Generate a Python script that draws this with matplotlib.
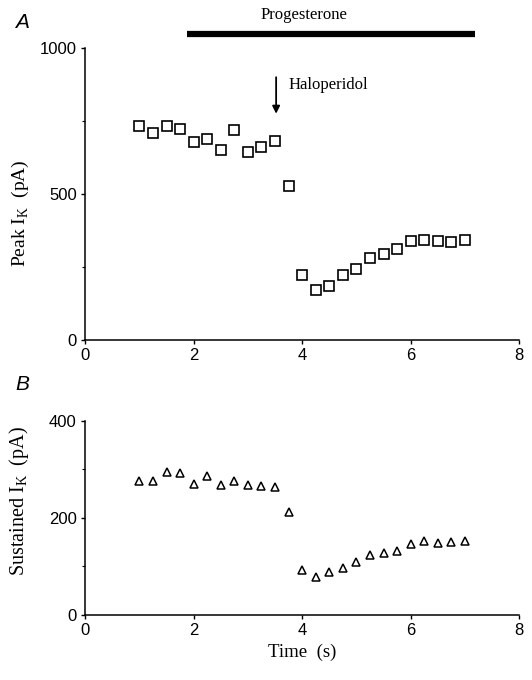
import matplotlib
matplotlib.use("Agg")
import matplotlib.pyplot as plt
from matplotlib.ticker import MultipleLocator

plt.rcParams['font.family'] = ['Liberation Sans', 'DejaVu Sans']
plt.rcParams['mathtext.fontset'] = 'custom'
plt.rcParams['mathtext.rm'] = 'Liberation Serif'

time = [1.0, 1.25, 1.5, 1.75, 2.0, 2.25, 2.5, 2.75, 3.0, 3.25, 3.5, 3.75,
        4.0, 4.25, 4.5, 4.75, 5.0, 5.25, 5.5, 5.75, 6.0, 6.25, 6.5, 6.75, 7.0]
peak_ik = [733, 708, 733, 723, 677, 690, 652, 718, 645, 660, 680, 528,
           221, 172, 186, 223, 242, 281, 293, 312, 339, 341, 339, 336, 344]
sustained_ik = [277, 276, 294, 292, 269, 287, 268, 276, 268, 266, 264, 212,
                92, 79, 88, 97, 109, 123, 128, 131, 146, 152, 148, 150, 153]
x_ticks = [0, 2, 4, 6, 8]
peak_ticks = [0, 500, 1000]
sust_ticks = [0, 200, 400]
progesterone_span = [1.88, 7.19]
haloperidol_time = 3.52

fig = plt.figure(figsize=(5.32, 6.8), dpi=100)
axA = fig.add_axes([0.160, 0.500, 0.816, 0.4294])
axB = fig.add_axes([0.160, 0.0956, 0.816, 0.2854])

serif = 'Liberation Serif'

for ax in (axA, axB):
    for s in ('top', 'right'):
        ax.spines[s].set_visible(False)
    for s in ('left', 'bottom'):
        ax.spines[s].set_linewidth(1.1)
    ax.set_xlim(0, 8)
    ax.set_xticks(x_ticks)
    ax.tick_params(axis='both', labelsize=12, direction='out', length=3, width=1, pad=3)
    ax.tick_params(axis='y', which='minor', length=2, width=0.8)

axA.plot(time, peak_ik, linestyle='none', marker='s', markersize=6.8,
         markerfacecolor='white', markeredgecolor='black', markeredgewidth=1.2, clip_on=False)
axA.set_ylim(0, 1000)
axA.set_yticks(peak_ticks)
axA.yaxis.set_minor_locator(MultipleLocator(250))
axA.set_ylabel(r'Peak I$_{\rm K}$  (pA)', fontfamily=serif, fontsize=14)
axA.yaxis.set_label_coords(-0.125, 0.435)

axB.plot(time, sustained_ik, linestyle='none', marker='^', markersize=6,
         markerfacecolor='white', markeredgecolor='black', markeredgewidth=1.1, clip_on=False)
axB.set_ylim(0, 400)
axB.set_yticks(sust_ticks)
axB.yaxis.set_minor_locator(MultipleLocator(100))
axB.set_ylabel(r'Sustained I$_{\rm K}$  (pA)', fontfamily=serif, fontsize=14.5)
axB.yaxis.set_label_coords(-0.125, 0.588)
axB.set_xlabel('Time  (s)', fontfamily=serif, fontsize=13.5, labelpad=4)

# Progesterone bar
axA.plot(progesterone_span, [1048, 1048], color='black', linewidth=4.5,
         solid_capstyle='butt', clip_on=False)
axA.text(sum(progesterone_span) / 2 - 0.5, 1112, 'Progesterone', fontfamily=serif,
         fontsize=12, ha='center', va='center', clip_on=False)

# Haloperidol arrow
axA.annotate('', xy=(haloperidol_time, 775), xytext=(haloperidol_time, 900),
             arrowprops=dict(arrowstyle='-|>', color='black', lw=1.3,
                             mutation_scale=11, shrinkA=0, shrinkB=0))
axA.text(haloperidol_time + 0.23, 875, 'Haloperidol', fontfamily=serif,
         fontsize=12, ha='left', va='center')

fig.text(15 / 532, 1 - 22 / 680, 'A', fontsize=15, style='italic', ha='left', va='center')
fig.text(15 / 532, 1 - 384 / 680, 'B', fontsize=15, style='italic', ha='left', va='center')

fig.savefig('out.png', dpi=100)
